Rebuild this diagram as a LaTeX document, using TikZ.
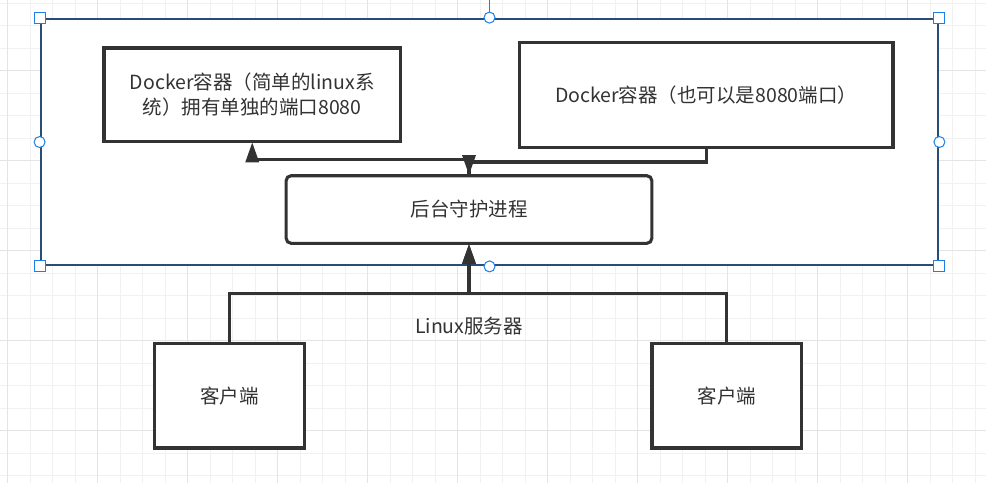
\documentclass[tikz,border=0pt]{standalone}
\usepackage{fontspec}
\setmainfont{Noto Sans CJK SC}
\usetikzlibrary{arrows.meta}
\definecolor{ink}{HTML}{333333}
\definecolor{gridminor}{HTML}{F1F1F1}
\definecolor{gridmajor}{HTML}{E4E4E4}
\definecolor{selblue}{HTML}{1E7EE8}
\definecolor{frame}{HTML}{2A4D78}
\tikzset{
  box/.style={draw=ink, line width=3.1pt, fill=white, inner sep=0pt, text=ink,
    font=\fontsize{19.5}{25}\selectfont, align=center},
  conn/.style={draw=ink, line width=3.1pt},
  arr/.style={conn, -{Triangle[length=20pt,width=13pt]}, shorten >=-1pt},
  handle/.style={draw=selblue, line width=1pt, fill=white},
}
\begin{document}
\begin{tikzpicture}[x=1pt,y=-1pt]
\useasboundingbox (0,0) rectangle (986,483);
\fill[white] (0,0) rectangle (986,483);
% grid
\foreach \i in {0,...,43} {
  \draw[gridminor, line width=1pt] ({7.7+22.5*\i},0) -- ({7.7+22.5*\i},483);
}
\foreach \j in {0,...,21} {
  \draw[gridminor, line width=1pt] (0,{3.2+22.5*\j}) -- (986,{3.2+22.5*\j});
}
\foreach \k in {0,...,10} {
  \draw[gridmajor, line width=1pt] ({7.7+90*\k},0) -- ({7.7+90*\k},483);
}
\foreach \k in {0,...,4} {
  \draw[gridmajor, line width=1pt] (0,{70.7+90*\k}) -- (986,{70.7+90*\k});
}
% container
\node[draw=frame, line width=2.8pt, fill=white, minimum width=897pt, minimum height=246pt, inner sep=0pt] (host) at (489.5,142) {};
% boxes
\node[box, minimum width=296.5pt, minimum height=93.7pt] (box1) at (252.25,94.85)
  {Docker容器（简单的linux系\\统）拥有单独的端口8080};
\node[box, minimum width=373.7pt, minimum height=104.8pt] (box2) at (706.15,95.1)
  {Docker容器（也可以是8080端口）};
\node[box, rounded corners=5pt, minimum width=365.7pt, minimum height=67.6pt] (daemon) at (469,209.5)
  {后台守护进程};
\node[box, minimum width=149.6pt, minimum height=104.7pt] (client1) at (229.5,395.65) {客户端};
\node[box, minimum width=149.7pt, minimum height=104.7pt] (client2) at (726.85,395.65) {客户端};
\node[text=ink, font=\fontsize{19.5}{25}\selectfont, inner sep=0pt] (lbl) at (469,326.5) {Linux服务器};
% connectors
\coordinate (ya) at (469,159.5);
\coordinate (yb) at (706.15,162);
\coordinate (yc) at (469,293.3);
\draw[arr] (daemon.north) -- (ya) -| (box1.south);
\draw[arr] (box2.south) -- (yb) -| (daemon.north);
\draw[arr] (client1.north) |- (yc) -- (daemon.south);
\draw[arr] (client2.north) |- (yc) -- (daemon.south);
% selection handles
\coordinate (rot) at (489.5,0);
\draw[selblue, line width=1pt] (rot) -- (host.north);
\foreach \a in {north west, north east, south west, south east} {
  \draw[handle] ([xshift=-5.5pt,yshift=-5.5pt]host.\a) rectangle ([xshift=5.5pt,yshift=5.5pt]host.\a);
}
\foreach \a in {north, south, west, east} {
  \draw[handle] (host.\a) circle[radius=5.5pt];
}
\end{tikzpicture}
\end{document}
